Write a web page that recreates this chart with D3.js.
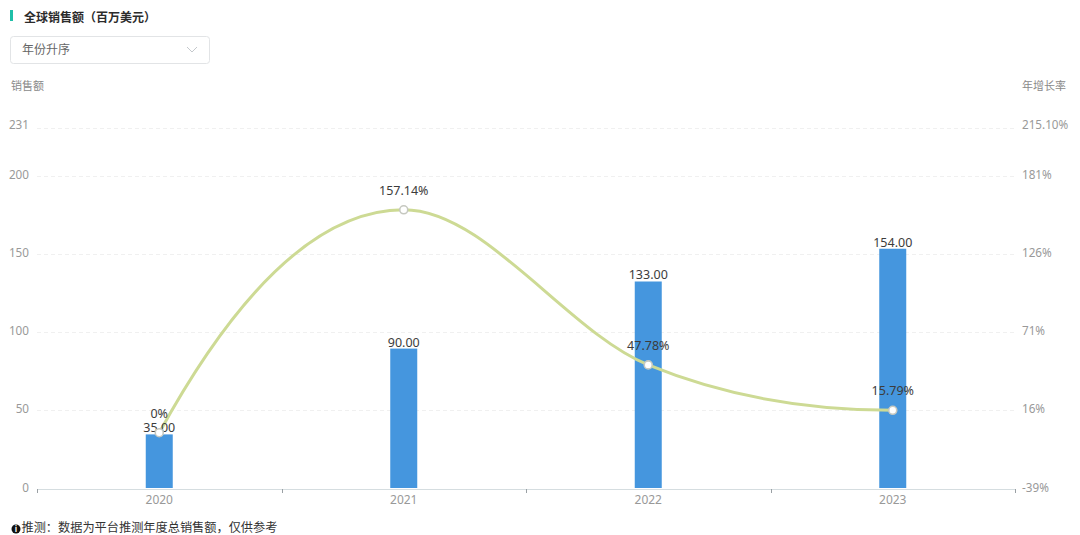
<!DOCTYPE html>
<html><head><meta charset="utf-8">
<script src="https://cdn.jsdelivr.net/npm/d3@7/dist/d3.min.js"></script>
<style>html,body{margin:0;padding:0;background:#fff}svg{display:block}text{font-family:"Noto Sans","Noto Sans CJK SC",sans-serif}</style>
</head><body><svg id="c" width="1080" height="535"></svg>
<script>
const years=["2020","2021","2022","2023"];
const sales=[35,90,133,154];
const growth=[0,157.14,47.78,15.79];
const salesLabels=["35.00","90.00","133.00","154.00"];
const growthLabels=["0%","157.14%","47.78%","15.79%"];
const leftTicks=[0,50,100,150,200,231];
const rightTicks=[-39,16,71,126,181,215.1];
const rightTickLabels=["-39%","16%","71%","126%","181%","215.10%"];

const svg=d3.select("#c");
const x=d3.scaleBand().domain(years).range([37,1015]);
const yL=d3.scaleLinear().domain([0,231]).range([488,127.6]);
const yBar=d3.scaleLinear().domain([0,231]).range([489,128.6]);
const yR=d3.scaleLinear().domain([-39,215.1]).range([488,127.6]);
const cx=d=>x(d)+x.bandwidth()/2;
const cn="'Noto Sans CJK SC','Noto Sans',sans-serif";

// smooth curve: central-difference tangents, flattened at local extremes, quadratic ends
function smoothCurve(context){
  let p=[];
  return {
    areaStart(){},areaEnd(){},
    lineStart(){p=[];},
    point(a,b){p.push([+a,+b]);},
    lineEnd(){
      const n=p.length,s=[],m=new Array(n);
      for(let i=0;i<n-1;i++)s[i]=(p[i+1][1]-p[i][1])/(p[i+1][0]-p[i][0]);
      for(let i=1;i<n-1;i++)m[i]=s[i-1]*s[i]<=0?0:(p[i+1][1]-p[i-1][1])/(p[i+1][0]-p[i-1][0]);
      m[0]=2*s[0]-m[1];
      m[n-1]=2*s[n-2]-m[n-2];
      if(m[n-1]*s[n-2]<0)m[n-1]=0;
      context.moveTo(p[0][0],p[0][1]);
      for(let i=0;i<n-1;i++){
        const h=(p[i+1][0]-p[i][0])/3;
        context.bezierCurveTo(p[i][0]+h,p[i][1]+m[i]*h,p[i+1][0]-h,p[i+1][1]-m[i+1]*h,p[i+1][0],p[i+1][1]);
      }
    }
  };
}

// header
svg.append("rect").attr("x",10).attr("y",10).attr("width",3).attr("height",11).attr("fill","#1fbfa8");
svg.append("text").attr("x",24).attr("y",22).attr("font-size",12).attr("font-weight",700).attr("fill","#2b2b2b").style("font-family",cn).text("全球销售额（百万美元）");
svg.append("rect").attr("x",10.5).attr("y",36.5).attr("width",199).attr("height",27).attr("rx",3).attr("fill","#fff").attr("stroke","#e2e4e6");
svg.append("text").attr("x",22).attr("y",54).attr("font-size",12).attr("fill","#666").style("font-family",cn).text("年份升序");
svg.append("path").attr("d",d3.line()([[187,47],[192,52],[197,47]])).attr("fill","none").attr("stroke","#c4c8cc");
svg.append("text").attr("x",11).attr("y",90).attr("font-size",11).attr("fill","#8a8a8a").style("font-family",cn).text("销售额");
svg.append("text").attr("x",1022).attr("y",90).attr("font-size",11).attr("fill","#8a8a8a").style("font-family",cn).text("年增长率");

// grid
svg.append("g").selectAll("line").data(leftTicks.slice(1)).join("line")
  .attr("x1",37).attr("x2",1015).attr("y1",d=>Math.round(yL(d))+.5).attr("y2",d=>Math.round(yL(d))+.5)
  .attr("stroke","#f0f0f0").attr("stroke-dasharray","4 3");

// axes
const gl=svg.append("g").attr("transform","translate(29,0)")
  .call(d3.axisLeft(yL).tickValues(leftTicks).tickSize(0).tickPadding(0).tickFormat(d3.format("d")));
const gr=svg.append("g").attr("transform","translate(1022,0)")
  .call(d3.axisRight(yR).tickValues(rightTicks).tickSize(0).tickPadding(0).tickFormat((d,i)=>rightTickLabels[i]));
[gl,gr].forEach(g=>{g.select(".domain").remove();
  g.selectAll("text").attr("font-size",11.7).attr("fill","#999").style("font-family","'Noto Sans',sans-serif")
   .attr("y",(d,i)=>i===0?0:i===5?-2.5:-1);});

// bars
svg.append("g").selectAll("rect").data(years).join("rect")
  .attr("x",d=>cx(d)-13.5).attr("width",27)
  .attr("y",(d,i)=>yBar(sales[i])).attr("height",(d,i)=>yBar(0)-yBar(sales[i])-1)
  .attr("fill","#4596de");

// x axis
const gx=svg.append("g").attr("transform","translate(0,489)")
  .call(d3.axisBottom(x).tickSize(0).tickPadding(6));
gx.select(".domain").attr("stroke","#d5dde0");
gx.selectAll("text").attr("font-size",12).attr("fill","#999").style("font-family","'Noto Sans',sans-serif");
svg.append("g").selectAll("line").data(d3.range(years.length).map(i=>x(years[i])).concat([x.range()[1]])).join("line")
  .attr("x1",d=>Math.round(d)+.5).attr("x2",d=>Math.round(d)+.5).attr("y1",489).attr("y2",493).attr("stroke","#9aa0a4");

// line
const pts=years.map((d,i)=>[cx(d),yR(growth[i])]);
svg.append("path").attr("d",d3.line().curve(smoothCurve)(pts)).attr("fill","none").attr("stroke","#cdda94").attr("stroke-width",3);

const lab=(arr,yf,dy)=>svg.append("g").selectAll("text").data(years).join("text")
  .attr("x",cx).attr("y",(d,i)=>yf(i)+dy).attr("text-anchor","middle").attr("font-size",12.5).attr("fill","#3c3c3c").style("font-family","'Noto Sans',sans-serif").text((d,i)=>arr[i]);
lab(salesLabels,i=>yBar(sales[i]),-2);
lab(growthLabels,i=>yR(growth[i]),-15);

svg.append("g").selectAll("circle").data(pts).join("circle")
  .attr("cx",d=>d[0]).attr("cy",d=>d[1]).attr("r",4).attr("fill","#fff").attr("stroke","#c6c8c0").attr("stroke-width",1.6);

// footnote
svg.append("circle").attr("cx",16).attr("cy",529).attr("r",4.5).attr("fill","#111");
svg.append("text").attr("x",16).attr("y",532).attr("text-anchor","middle").attr("font-size",8).attr("font-weight",700).attr("fill","#fff").text("i");
svg.append("text").attr("x",21.5).attr("y",532.4).attr("font-size",12.2).attr("fill","#333").style("font-family",cn).text("推测：数据为平台推测年度总销售额，仅供参考");
</script></body></html>
